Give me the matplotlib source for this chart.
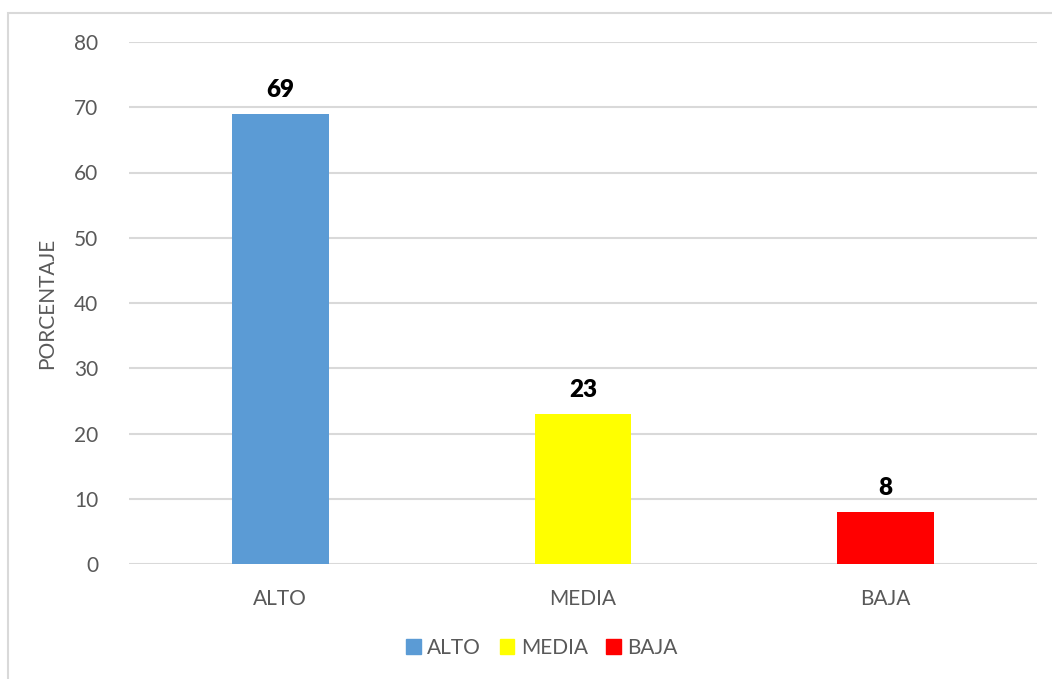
import matplotlib.pyplot as plt
from matplotlib.patches import Rectangle, Patch

categorias = ["ALTO", "MEDIA", "BAJA"]
porcentajes = [69, 23, 8]
colores = ["#5b9bd5", "#ffff00", "#ff0000"]
yticks = [0, 10, 20, 30, 40, 50, 60, 70, 80]

plt.rcParams['font.family'] = ['Lato', 'DejaVu Sans']

fig = plt.figure(figsize=(10.52, 6.79), dpi=100)
ax = fig.add_axes([129/1052, 115/679, 908/1052, 522/679])

x = range(len(categorias))
ax.bar(x, porcentajes, width=0.32, color=colores, zorder=3)
for xi, v in zip(x, porcentajes):
    ax.text(xi, v + 2.0, str(v), ha='center', va='bottom', fontsize=17.5,
            fontweight='heavy', color='black')

ax.set_xlim(-0.5, 2.5)
ax.set_ylim(0, 80)
ax.set_yticks(yticks)
ax.set_xticks(list(x))
ax.set_xticklabels(categorias)
ax.tick_params(axis='both', length=0, labelsize=15, labelcolor='#595959')
ax.tick_params(axis='x', pad=18)
ax.tick_params(axis='y', pad=22)
ax.grid(axis='y', color='#d9d9d9', linewidth=1.5, zorder=0)
for s in ax.spines.values():
    s.set_visible(False)
ax.set_ylabel("PORCENTAJE", fontsize=15, color='#595959', labelpad=12)

handles = [Patch(color=c, label=l) for c, l in zip(colores, categorias)]
fig.legend(handles=handles, loc='center', bbox_to_anchor=(542/1052, 1 - 648/679),
           ncol=3, frameon=False, fontsize=15, labelcolor='#595959',
           handlelength=0.7, handleheight=0.7, handletextpad=0.3, columnspacing=0.9)

# borde del area del grafico
fig.patches.append(Rectangle((8/1052, -0.1), 1.2, 1 - 13/679 + 0.1,
                             transform=fig.transFigure, fill=False,
                             edgecolor='#d9d9d9', linewidth=1.5))

fig.savefig("out.png", dpi=100)
